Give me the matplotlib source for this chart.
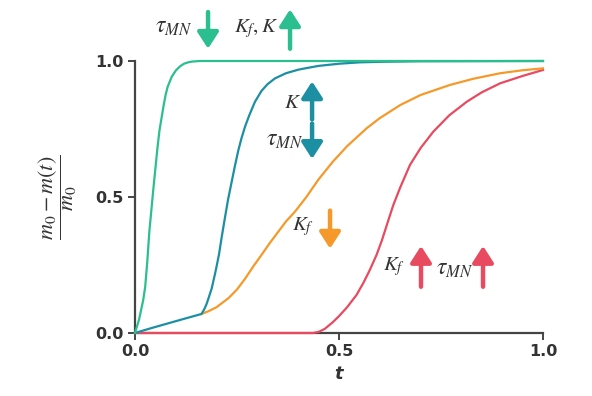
import matplotlib
matplotlib.use("Agg")
import matplotlib.pyplot as plt

# ---- data ----
t_green = [0.0, 0.01, 0.02, 0.025, 0.03, 0.035, 0.04, 0.045, 0.05, 0.055, 0.06, 0.065,
           0.07, 0.075, 0.08, 0.09, 0.10, 0.11, 0.12, 0.13, 0.14, 0.16, 0.3, 0.6, 1.0]
v_green = [0.0, 0.05, 0.12, 0.17, 0.26, 0.37, 0.45, 0.53, 0.605, 0.68, 0.745, 0.79,
           0.835, 0.875, 0.905, 0.942, 0.965, 0.98, 0.99, 0.995, 0.998, 1.0, 1.0, 1.0, 1.0]

t_teal = [0.0, 0.04, 0.08, 0.12, 0.163, 0.17, 0.175, 0.18, 0.188, 0.195, 0.2, 0.206,
          0.212, 0.22, 0.228, 0.237, 0.245, 0.253, 0.261, 0.27, 0.28, 0.294, 0.31,
          0.325, 0.343, 0.37, 0.4, 0.417, 0.45, 0.5, 0.55, 0.6, 0.7, 1.0]
v_teal = [0.0, 0.018, 0.035, 0.052, 0.07, 0.088, 0.105, 0.127, 0.164, 0.21, 0.245, 0.29,
          0.348, 0.42, 0.49, 0.556, 0.615, 0.67, 0.716, 0.76, 0.8, 0.85, 0.89,
          0.915, 0.936, 0.955, 0.968, 0.973, 0.982, 0.99, 0.995, 0.997, 0.999, 1.0]

t_orange = [0.163, 0.18, 0.2, 0.229, 0.25, 0.27, 0.29, 0.31, 0.33, 0.35, 0.37, 0.392,
            0.42, 0.45, 0.485, 0.52, 0.568, 0.6, 0.65, 0.7, 0.772, 0.83, 0.895, 0.95, 1.0]
v_orange = [0.07, 0.08, 0.095, 0.128, 0.16, 0.2, 0.245, 0.287, 0.33, 0.37, 0.41, 0.446,
            0.5, 0.565, 0.63, 0.687, 0.753, 0.79, 0.838, 0.875, 0.912, 0.935, 0.955, 0.966, 0.973]

t_red = [0.0, 0.436, 0.45, 0.465, 0.485, 0.5, 0.52, 0.543, 0.56, 0.575, 0.592, 0.605,
         0.62, 0.633, 0.65, 0.674, 0.7, 0.731, 0.77, 0.813, 0.85, 0.895, 0.95, 1.0]
v_red = [0.0, 0.0, 0.004, 0.015, 0.04, 0.062, 0.095, 0.14, 0.185, 0.23, 0.287, 0.34,
         0.41, 0.47, 0.535, 0.618, 0.68, 0.74, 0.8, 0.85, 0.885, 0.918, 0.945, 0.967]

ticks = [0.0, 0.5, 1.0]
tick_labels = ["0.0", "0.5", "1.0"]

c_green = "#2bbf8f"
c_teal = "#1d8fa3"
c_orange = "#f59a2a"
c_red = "#e84a5f"
c_text = "#333333"

plt.rcParams["mathtext.fontset"] = "stix"

fig = plt.figure(figsize=(5.92, 3.96), dpi=100)
ax = fig.add_axes([135 / 592, 63 / 396, 408 / 592, 272 / 396])

lw = 1.6
kw = dict(lw=lw, clip_on=False, solid_joinstyle="round")
ax.plot(t_red, v_red, color=c_red, zorder=3, **kw)
ax.plot(t_orange, v_orange, color=c_orange, zorder=3, **kw)
ax.plot(t_teal, v_teal, color=c_teal, zorder=4, **kw)
ax.plot(t_green, v_green, color=c_green, zorder=5, **kw)

ax.set_xlim(0, 1)
ax.set_ylim(0, 1)
ax.set_xticks(ticks)
ax.set_xticklabels(tick_labels)
ax.set_yticks(ticks)
ax.set_yticklabels(tick_labels)
for s in ["top", "right"]:
    ax.spines[s].set_visible(False)
for s in ["left", "bottom"]:
    ax.spines[s].set_linewidth(1.6)
    ax.spines[s].set_color("#444444")
ax.tick_params(axis="both", length=5, width=1.4, color="#444444",
               labelsize=11.5, labelcolor=c_text, pad=3)
for lab in ax.get_xticklabels() + ax.get_yticklabels():
    lab.set_fontweight("bold")

ax.set_xlabel("t", fontsize=13, fontweight="bold", style="italic", color=c_text, labelpad=4)
ax.set_ylabel(r"$\dfrac{m_0 - m(t)}{m_0}$", fontsize=16, color=c_text, labelpad=12)


def arrow(x, y0, y1, color):
    ax.annotate("", xy=(x, y1), xytext=(x, y0), xycoords="data",
                annotation_clip=False,
                arrowprops=dict(arrowstyle="-|>,head_width=0.45,head_length=0.7",
                                lw=3.2, color=color, shrinkA=0, shrinkB=0,
                                mutation_scale=14))


def label(x, y, s, size=15):
    ax.text(x, y, s, fontsize=size, color=c_text, ha="center", va="center",
            clip_on=False)


# green annotations (above axes)
label(0.094, 1.13, r"$\tau_{MN}$", 17)
arrow(0.179, 1.18, 1.045, c_green)
label(0.297, 1.12, r"$K_f,K$")
arrow(0.38, 1.045, 1.19, c_green)

# teal
label(0.386, 0.85, r"$K$")
arrow(0.434, 0.785, 0.925, c_teal)
label(0.366, 0.712, r"$\tau_{MN}$", 17)
arrow(0.434, 0.77, 0.64, c_teal)

# orange
label(0.412, 0.39, r"$K_f$")
arrow(0.478, 0.45, 0.31, c_orange)

# red
label(0.636, 0.245, r"$K_f$")
arrow(0.701, 0.17, 0.32, c_red)
label(0.783, 0.24, r"$\tau_{MN}$", 17)
arrow(0.853, 0.17, 0.32, c_red)

fig.savefig("out.png", dpi=100)
